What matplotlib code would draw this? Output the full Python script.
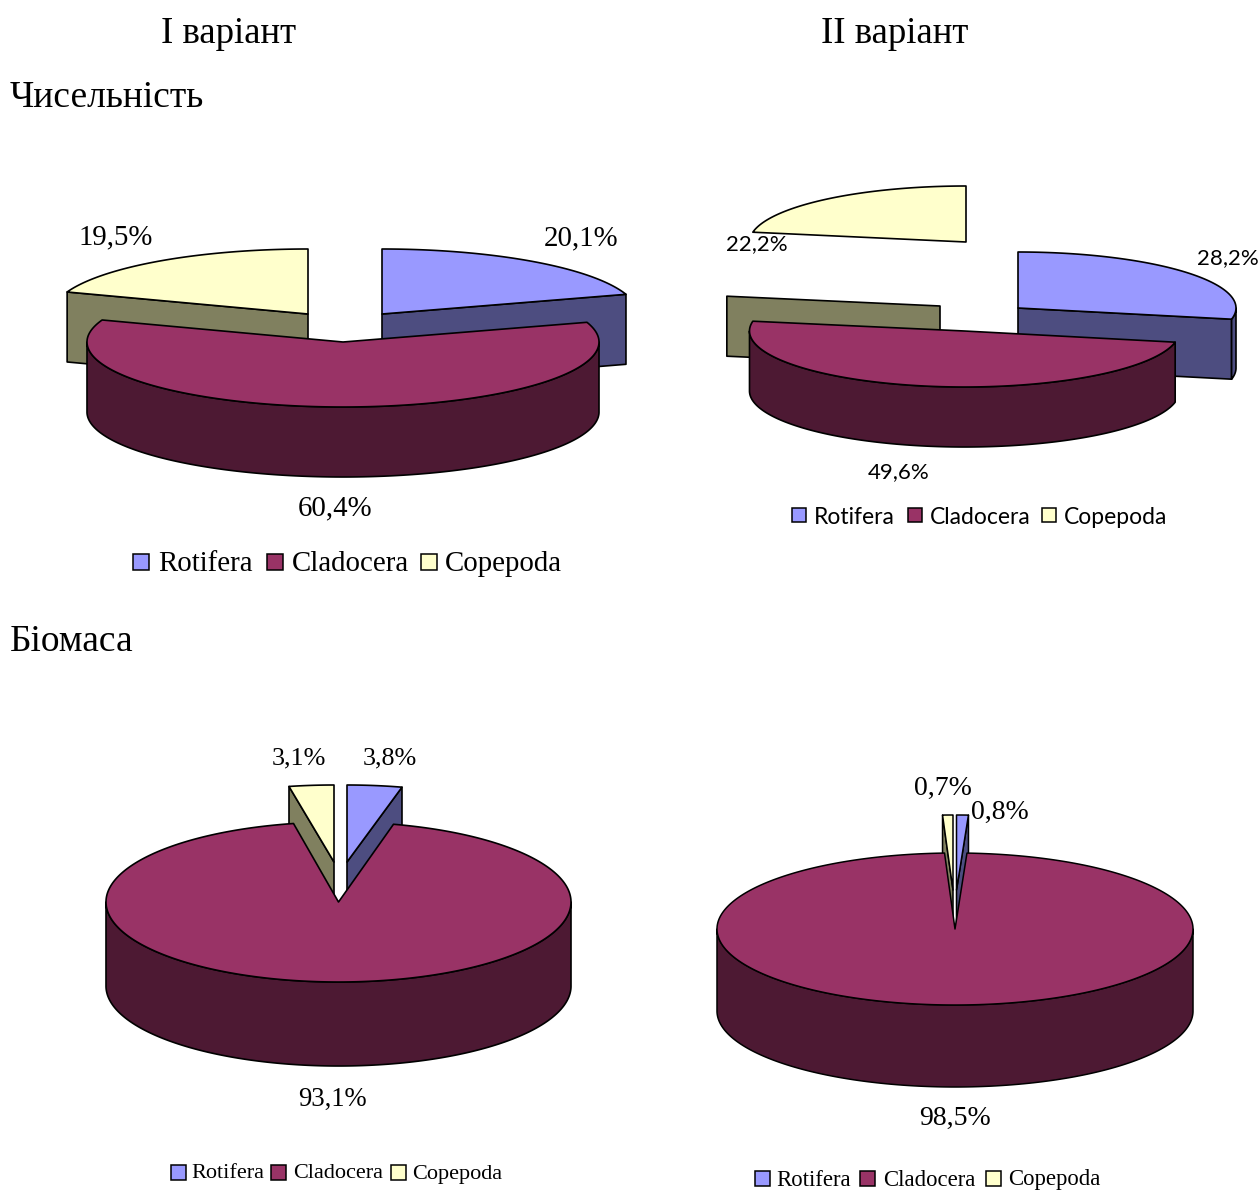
import numpy as np
import matplotlib
matplotlib.use("Agg")
import matplotlib.pyplot as plt
from matplotlib.patches import Polygon, Rectangle

species = ["Rotifera", "Cladocera", "Copepoda"]
numbers_v1 = [20.1, 60.4, 19.5]
numbers_v2 = [28.2, 49.6, 22.2]
biomass_v1 = [3.8, 93.1, 3.1]
biomass_v2 = [0.8, 98.5, 0.7]

top_colors = ["#9999FF", "#993366", "#FFFFCC"]
side_colors = ["#4D4D80", "#4D1933", "#80805F"]
SERIF = "Liberation Serif"
SANS = "Lato"

fig = plt.figure(figsize=(12.6, 11.93), dpi=100)
ax = fig.add_axes([0, 0, 1, 1])
ax.set_xlim(0, 1260)
ax.set_ylim(1193, 0)
ax.axis("off")


def arc(cx, cy, rx, ry, a0, a1):
    # angles in degrees, clockwise from 12 o'clock
    t = np.radians(np.linspace(a0, a1, max(int(abs(a1 - a0)) * 2, 12)))
    return np.column_stack([cx + rx * np.sin(t), cy - ry * np.cos(t)])


def slab(pts, depth):
    return np.vstack([pts, (pts + [0, depth])[::-1]])


def pie3d(values, radii, depth, centers, side_shift=None, lw=1.2):
    edges = np.cumsum([0] + list(values)) * 3.6
    for i in [0, 2, 1]:
        a0, a1 = edges[i], edges[i + 1]
        cx, cy = centers[i]
        rx, ry = radii[i]
        sx, sy = side_shift[i] if side_shift else (0, 0)
        apex = np.array([cx, cy], dtype=float)
        rim = arc(cx, cy, rx, ry, a0, a1)
        kw = dict(edgecolor="black", linewidth=lw, joinstyle="round")
        shift = np.array([sx, sy])
        # flat cut faces
        if i == 0:
            ax.add_patch(Polygon(slab(np.array([apex, rim[-1]]) + shift, depth),
                                 facecolor=side_colors[i], **kw))
        if i == 2:
            ax.add_patch(Polygon(slab(np.array([apex, rim[0]]) + shift, depth),
                                 facecolor=side_colors[i], **kw))
        # outer wall, front half only
        f0, f1 = max(a0, 90), min(a1, 270)
        if f1 > f0:
            ax.add_patch(Polygon(slab(arc(cx + sx, cy + sy, rx, ry, f0, f1), depth),
                                 facecolor=side_colors[i], **kw))
        ax.add_patch(Polygon(np.vstack([apex, rim]), facecolor=top_colors[i], **kw))


def legend(swatches, text_xs, y, size, family, box=15, names=species):
    for c, sx, tx, name in zip(top_colors, swatches, text_xs, names):
        ax.add_patch(Rectangle((sx, y - box / 2), box, box, facecolor=c,
                               edgecolor="black", linewidth=1.1))
        ax.text(tx, y + 2, name, fontsize=size, family=family, va="center", ha="left")


def label(x, y, s, size, family=SERIF):
    ax.text(x, y, s, fontsize=size, family=family, va="center", ha="center")


# headings
label(229, 34, "І варіант", 26.5)
label(895, 34, "ІІ варіант", 26.5)
ax.text(10, 98, "Чисельність", fontsize=27, family=SERIF, va="center")
ax.text(10, 642, "Біомаса", fontsize=27, family=SERIF, va="center")

# numbers, variant I
pie3d(numbers_v1, [(256, 65)] * 3, 70, [(382, 314), (343, 342), (308, 314)])
label(581, 238, "20,1%", 20.8)
label(116, 237, "19,5%", 20.8)
label(335, 508, "60,4%", 20.8)
legend([133, 267, 421], [158, 292, 445], 562, 20.8, SERIF, box=16)

# numbers, variant II
pie3d(numbers_v2, [(218, 56), (215, 56), (216.5, 56)], 60,
      [(1018, 308), (964.5, 331), (966, 242)],
      side_shift=[(0, 0), (0, 0), (-26, 64)])
label(1228, 258, "28,2%", 16, SANS)
label(757, 244, "22,2%", 16, SANS)
label(899, 472, "49,6%", 16, SANS)
legend([792, 908, 1042], [814, 930, 1064], 515, 16.5, SANS, box=14)

# biomass, variant I
pie3d(biomass_v1, [(232.5, 77), (232.5, 80), (232.5, 77)], 84,
      [(347, 862), (338.5, 902), (334, 862)])
label(389.5, 758, "3,8%", 18.8)
label(299, 758, "3,1%", 18.8)
label(332, 1099, "93,1%", 19.2)
legend([171, 271, 391], [191, 293, 412], 1172, 16, SERIF, box=15)

# biomass, variant II
pie3d(biomass_v2, [(238, 75), (238, 76), (238, 75)], 82,
      [(956.5, 890), (955, 929), (953, 890)], lw=1.1)
label(1000, 812, "0,8%", 20)
label(943, 788, "0,7%", 20)
label(955, 1118, "98,5%", 20)
legend([755, 860, 986], [776, 883, 1008], 1178, 16.4, SERIF, box=15)

fig.savefig("out.png", dpi=100)
